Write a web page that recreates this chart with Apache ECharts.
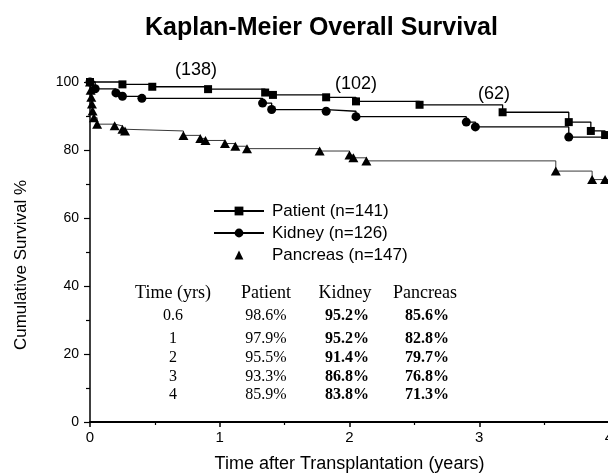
<!DOCTYPE html>
<html>
<head>
<meta charset="utf-8">
<script src="https://cdn.jsdelivr.net/npm/echarts@6/dist/echarts.min.js"></script>
<style>
html,body{margin:0;padding:0;background:#fff;}
#chart{width:608px;height:475px;}
</style>
</head>
<body>
<div id="chart"></div>
<script>
// ---- data ----
const patientT  = [0, 0.25, 0.48, 0.91, 1.35, 1.41, 1.82, 2.05, 2.54, 3.18, 3.69, 3.86, 3.97, 4.0];
const patientS  = [100, 99.3, 98.6, 97.9, 96.9, 96.2, 95.5, 94.3, 93.3, 91.1, 88.2, 85.6, 84.4, 84.4];
const kidneyT   = [0, 0.04, 0.20, 0.25, 0.40, 1.33, 1.40, 1.82, 2.05, 2.90, 2.97, 3.69, 4.0];
const kidneyS   = [100, 98.0, 96.8, 95.8, 95.2, 93.8, 91.9, 91.4, 89.8, 88.2, 86.8, 83.8, 83.8];
const pancreasT = [0, 0.005, 0.01, 0.015, 0.02, 0.03, 0.055, 0.19, 0.25, 0.27, 0.72, 0.85, 0.89, 1.04, 1.12, 1.21, 1.77, 2.00, 2.03, 2.13, 3.59, 3.87, 3.97, 4.0];
const pancreasS = [100, 97.6, 95.5, 93.5, 91.5, 89.5, 87.6, 87.1, 86.1, 85.6, 84.3, 83.4, 82.8, 81.9, 81.1, 80.4, 79.7, 78.5, 77.7, 76.8, 73.8, 71.3, 71.3, 71.3];

const seriesNames = ['Patient (n=141)', 'Kidney (n=126)', 'Pancreas (n=147)'];
const atRiskLabels = ['(138)', '(102)', '(62)'];

const tableHeader   = ['Time (yrs)', 'Patient', 'Kidney', 'Pancreas'];
const tableTimes    = ['0.6', '1', '2', '3', '4'];
const tablePatient  = ['98.6%', '97.9%', '95.5%', '93.3%', '85.9%'];
const tableKidney   = ['95.2%', '95.2%', '91.4%', '86.8%', '83.8%'];
const tablePancreas = ['85.6%', '82.8%', '79.7%', '76.8%', '71.3%'];

const xTicks = [0, 1, 2, 3, 4];
const yTicks = [0, 20, 40, 60, 80, 100];

// ---- build ----
const SANS = "'Liberation Sans',Arial,Helvetica,sans-serif";
const SERIF = "'Liberation Serif','Times New Roman',serif";

function pts(t, s) {
  return t.map((x, i) => {
    const p = { value: [x, s[i]] };
    if (i === t.length - 1 && x === 4.0) p.symbol = 'none';
    return p;
  });
}

const chart = echarts.init(document.getElementById('chart'), null, { renderer: 'canvas' });

const graphics = [];
// at-risk annotations
const riskPos = [[196, 70], [356, 84], [494, 94]];
atRiskLabels.forEach((t, i) => {
  graphics.push({ type: 'text', x: riskPos[i][0], y: riskPos[i][1],
    style: { text: t, font: "18px " + SANS, fill: '#000', textAlign: 'center', textVerticalAlign: 'middle' } });
});
// table
const colX = [173, 266, 345, 425];
const rowY = [293, 316, 339, 358, 377, 395];
tableHeader.forEach((h, c) => {
  graphics.push({ type: 'text', x: colX[c], y: rowY[0],
    style: { text: h, font: "18px " + SERIF, fill: '#000', textAlign: 'center', textVerticalAlign: 'middle' } });
});
const cols = [tableTimes, tablePatient, tableKidney, tablePancreas];
cols.forEach((col, c) => {
  col.forEach((v, r) => {
    graphics.push({ type: 'text', x: colX[c] + (c >= 2 ? 2 : 0), y: rowY[r + 1],
      style: { text: v, font: (c >= 2 ? 'bold ' : '') + "16px " + SERIF, fill: '#000', textAlign: 'center', textVerticalAlign: 'middle' } });
  });
});

const option = {
  backgroundColor: '#fff',
  animation: false,
  title: {
    text: 'Kaplan-Meier Overall Survival',
    left: 140, top: 11,
    textStyle: { fontFamily: SANS, fontWeight: 'bold', fontSize: 25, color: '#000' }
  },
  grid: { left: 90, top: 82, width: 519, height: 340, outerBoundsMode: 'none', containLabel: false },
  legend: {
    orient: 'vertical', left: 208, top: 196,
    itemWidth: 50, itemHeight: 11, itemGap: 2,
    textStyle: { fontFamily: SANS, fontSize: 17, color: '#000', lineHeight: 20, padding: [0, 0, 0, 3] },
    data: [
      { name: seriesNames[0] },
      { name: seriesNames[1] },
      { name: seriesNames[2], lineStyle: { opacity: 0 } }
    ]
  },
  xAxis: {
    type: 'value', min: 0, max: 4, interval: 1,
    name: 'Time after Transplantation (years)', nameLocation: 'middle', nameGap: 33,
    nameTextStyle: { fontFamily: SANS, fontSize: 18, color: '#000' },
    axisLine: { lineStyle: { color: '#000', width: 2 } },
    axisTick: { length: 5, lineStyle: { color: '#000', width: 1.5 } },
    minorTick: { show: true, splitNumber: 2, length: 3, lineStyle: { color: '#000', width: 1.2 } },
    splitLine: { show: false },
    axisLabel: { fontFamily: SANS, fontSize: 15, color: '#000', margin: 8,
      formatter: v => xTicks.includes(v) ? String(v) : '' }
  },
  yAxis: {
    type: 'value', min: 0, max: 100, interval: 20,
    name: 'Cumulative Survival %', nameLocation: 'middle', nameGap: 60,
    nameTextStyle: { fontFamily: SANS, fontSize: 17, color: '#000', padding: [0, 0, 0, -26] },
    axisLine: { lineStyle: { color: '#000', width: 1.5 } },
    axisTick: { length: 6, lineStyle: { color: '#000', width: 1.2 } },
    minorTick: { show: true, splitNumber: 2, length: 4, lineStyle: { color: '#000', width: 1.2 } },
    splitLine: { show: false },
    axisLabel: { fontFamily: SANS, fontSize: 14, color: '#000', margin: 11,
      formatter: v => yTicks.includes(v) ? String(v) : '' }
  },
  series: [
    { name: seriesNames[0], type: 'line', step: 'end', data: pts(patientT, patientS),
      symbol: 'rect', symbolSize: 8, showAllSymbol: true, clip: false,
      lineStyle: { color: '#000', width: 1.3 }, itemStyle: { color: '#000' } },
    { name: seriesNames[1], type: 'line', step: 'end', data: pts(kidneyT, kidneyS),
      symbol: 'circle', symbolSize: 9, showAllSymbol: true, clip: false,
      lineStyle: { color: '#000', width: 1.3 }, itemStyle: { color: '#000' } },
    { name: seriesNames[2], type: 'line', step: 'end', data: pts(pancreasT, pancreasS),
      symbol: 'triangle', symbolSize: [10, 9], showAllSymbol: true, clip: false,
      lineStyle: { color: '#222', width: 0.9 }, itemStyle: { color: '#000' } }
  ],
  graphic: graphics
};
chart.setOption(option);
</script>
</body>
</html>
